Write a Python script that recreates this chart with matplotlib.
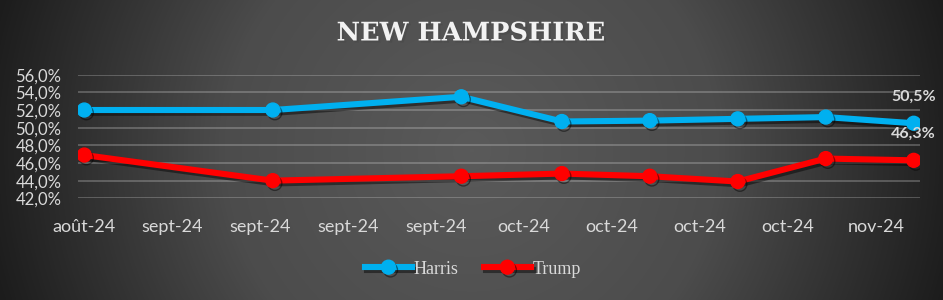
import numpy as np
import matplotlib
matplotlib.use("Agg")
import matplotlib.pyplot as plt
import matplotlib.patheffects as pe
from matplotlib.colors import LinearSegmentedColormap

# poll dates and values (%)
dates = np.array(["2024-08-30", "2024-09-14", "2024-09-29", "2024-10-07",
                  "2024-10-14", "2024-10-21", "2024-10-28", "2024-11-04"],
                 dtype="datetime64[D]")
harris = [52.0, 52.0, 53.5, 50.7, 50.8, 51.0, 51.2, 50.5]
trump = [46.9, 44.0, 44.5, 44.8, 44.5, 43.9, 46.5, 46.3]

# x axis ticks (weekly) and their labels
tick_dates = np.array(["2024-08-30", "2024-09-06", "2024-09-13", "2024-09-20",
                       "2024-09-27", "2024-10-04", "2024-10-11", "2024-10-18",
                       "2024-10-25", "2024-11-01"], dtype="datetime64[D]")
tick_labels = ["août-24", "sept-24", "sept-24", "sept-24", "sept-24",
               "oct-24", "oct-24", "oct-24", "oct-24", "nov-24"]
y_ticks = [42, 44, 46, 48, 50, 52, 54, 56]

W, H = 943, 300
fig = plt.figure(figsize=(W / 100, H / 100), dpi=100)

# radial gradient background
bg = fig.add_axes([0, 0, 1, 1], zorder=-10)
xx, yy = np.meshgrid(np.arange(W) - W / 2, np.arange(H) - H / 2)
r = np.sqrt(xx ** 2 + yy ** 2) / np.sqrt((W / 2) ** 2 + (H / 2) ** 2)
cmap = LinearSegmentedColormap.from_list("bg", ["#5a5a5a", "#4c4c4c", "#1c1c1c"])
bg.imshow(r, cmap=cmap, vmin=0, vmax=1, aspect="auto")
bg.axis("off")

ax = fig.add_axes([78 / W, 1 - 198.3 / H, (920 - 78) / W, (198.3 - 74.7) / H])
ax.set_facecolor("none")

xd = dates.astype(object)
shadow = [pe.SimpleLineShadow(offset=(1.5, -2), alpha=0.45, shadow_color="black"), pe.Normal()]
ax.plot(xd, harris, color="#00B0F0", lw=4.4, marker="o", ms=10, label="Harris",
        path_effects=shadow, solid_joinstyle="round", zorder=3)
ax.plot(xd, trump, color="#FF0000", lw=4.4, marker="o", ms=10, label="Trump",
        path_effects=shadow, solid_joinstyle="round", zorder=3)

ax.set_ylim(42, 56)
ax.set_yticks(y_ticks)
ax.set_yticklabels([f"{v:.1f}%".replace(".", ",") for v in y_ticks])
x0 = dates[0] - np.timedelta64(12, "h")
x1 = dates[-1] + np.timedelta64(12, "h")
ax.set_xlim(x0.astype(object), x1.astype(object))
ax.set_xticks(tick_dates.astype(object))
ax.set_xticklabels(tick_labels)

ax.grid(axis="y", color="#d9d9d9", alpha=0.28, lw=1.4)
ax.set_axisbelow(True)
for s in ax.spines.values():
    s.set_visible(False)
ax.tick_params(axis="both", length=0, colors="#d9d9d9")
ax.tick_params(axis="y", pad=12, labelsize=12)
ax.tick_params(axis="x", pad=15, labelsize=13)
for lab in ax.get_xticklabels() + ax.get_yticklabels():
    lab.set_fontfamily("Lato")

# data labels on the last points
for vals in (harris, trump):
    ax.annotate(f"{vals[-1]:.1f}%".replace(".", ","), (xd[-1], vals[-1]),
                xytext=(0, 19), textcoords="offset points", ha="center", va="center",
                color="#d9d9d9", fontsize=11.5, fontweight="bold", fontfamily="Lato")

fig.text(0.5, 1 - 33 / H, "NEW HAMPSHIRE", ha="center", va="center", color="#f2f2f2",
         fontsize=18.5, fontweight="bold", fontfamily="DejaVu Serif",
         path_effects=[pe.SimplePatchShadow(offset=(1.5, -1.5), alpha=0.6), pe.Normal()])

leg = fig.legend(loc="center", bbox_to_anchor=(473 / W, 1 - 269 / H), ncol=2, frameon=False,
                 handlelength=2.6, handletextpad=0.1, columnspacing=1.4,
                 prop={"family": "Liberation Serif", "size": 13})
for t in leg.get_texts():
    t.set_color("#d9d9d9")

fig.savefig("out.png", dpi=100)
